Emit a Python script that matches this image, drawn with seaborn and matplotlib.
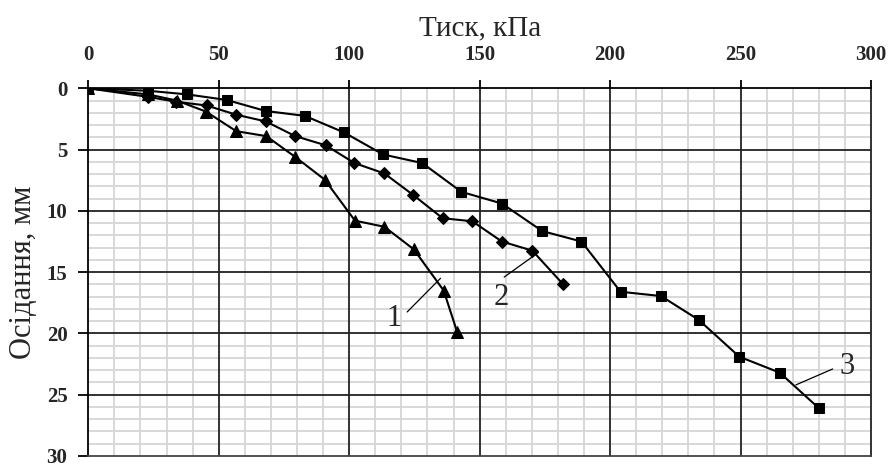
import matplotlib
matplotlib.use("Agg")
import matplotlib.pyplot as plt
import seaborn as sns
import pandas as pd
from matplotlib.ticker import MultipleLocator

# ---- data ----
p1 = [0, 23, 33.9, 45.1, 56.7, 68.2, 79.3, 90.6, 102.2, 113.5, 124.8, 136.2, 141.4]
s1 = [0, 0.5, 1.0, 1.9, 3.5, 3.9, 5.6, 7.45, 10.8, 11.3, 13.15, 16.5, 19.9]

p2 = [0, 23, 33.7, 45.3, 56.6, 68, 79.3, 91, 102, 113.5, 124.5, 135.8, 147.2, 158.5, 170.2, 181.8]
s2 = [0, 0.7, 1.1, 1.4, 2.15, 2.7, 3.9, 4.65, 6.1, 6.95, 8.7, 10.6, 10.85, 12.5, 13.25, 15.95]

p3 = [0, 23, 38, 53, 68, 83, 98, 113, 128, 143, 158.5, 174, 189, 204, 219.5, 234, 249.5, 265, 280]
s3 = [0, 0.2, 0.5, 0.95, 1.85, 2.25, 3.6, 5.4, 6.1, 8.45, 9.4, 11.65, 12.5, 16.6, 16.95, 18.9, 21.9, 23.2, 26.1]

series_names = ["1", "2", "3"]
x_label = "Тиск, кПа"
y_label = "Осідання, мм"
x_ticks = [0, 50, 100, 150, 200, 250, 300]
y_ticks = [0, 5, 10, 15, 20, 25, 30]

df = pd.concat([
    pd.DataFrame({"p": p1, "s": s1, "series": series_names[0]}),
    pd.DataFrame({"p": p2, "s": s2, "series": series_names[1]}),
    pd.DataFrame({"p": p3, "s": s3, "series": series_names[2]}),
], ignore_index=True)

sns.set_theme(style="white")
plt.rcParams["font.family"] = ["Liberation Serif", "DejaVu Serif"]

fig = plt.figure(figsize=(8.92, 4.66), dpi=100)
ax = fig.add_axes([0.099, 0.0215, 0.8775, 0.789])

sns.lineplot(data=df, x="p", y="s", hue="series", style="series",
             palette={"1": "black", "2": "black", "3": "black"},
             markers={"1": "^", "2": "D", "3": "s"}, dashes=False,
             estimator=None, sort=False, legend=False, ax=ax,
             linewidth=1.5, markersize=7, markeredgecolor="black", zorder=5)
for ln, ms in zip(ax.lines, [8, 6, 7]):
    ln.set_markersize(ms)

ax.set_xlim(0, 300)
ax.set_ylim(30, 0)
ax.xaxis.set_minor_locator(MultipleLocator(10))
ax.yaxis.set_minor_locator(MultipleLocator(1))
ax.grid(which="minor", color="#d6d6d6", linewidth=1.3)
ax.grid(which="major", visible=False)
ax.set_axisbelow(True)
for xv in x_ticks[1:-1]:
    ax.axvline(xv, color="#222222", linewidth=1.3, zorder=2)
for yv in y_ticks[1:-1]:
    ax.axhline(yv, color="#222222", linewidth=1.3, zorder=2)

ax.xaxis.tick_top()
ax.xaxis.set_label_position("top")
ax.set_xticks(x_ticks)
ax.set_yticks(y_ticks)
ax.set_xticklabels([str(t) for t in x_ticks], fontweight="bold", fontsize=15)
ax.set_yticklabels([str(t) for t in y_ticks], fontweight="bold", fontsize=15)
ax.tick_params(axis="x", which="major", top=True, bottom=False, direction="out",
               length=6, width=1.3, color="black", pad=11)
ax.tick_params(axis="y", which="major", left=True, direction="out",
               length=7, width=1.3, color="black", pad=8)
ax.tick_params(which="minor", length=0)

for sp in ax.spines.values():
    sp.set_color("black")
    sp.set_linewidth(1.3)
    sp.set_zorder(3)
ax.spines["bottom"].set_color("#444444")
ax.spines["right"].set_color("#222222")

ax.set_xlabel(x_label, fontsize=21)
ax.xaxis.set_label_coords(0.5, 1.128)
ax.xaxis.label.set_va("bottom")
ax.set_ylabel(y_label, fontsize=22, labelpad=6)

# curve labels with leader lines
ax.plot([122.2, 135], [18.25, 15.5], color="black", linewidth=0.9, zorder=6)
ax.text(117.3, 18.8, "1", fontsize=22, ha="center", va="center", zorder=6)
ax.plot([159.4, 172.5], [15.4, 13.4], color="black", linewidth=0.9, zorder=6)
ax.text(158.3, 17.1, "2", fontsize=22, ha="center", va="center", zorder=6)
ax.plot([271.2, 285.3], [24.2, 22.9], color="black", linewidth=0.9, zorder=6)
ax.text(290.8, 22.7, "3", fontsize=22, ha="center", va="center", zorder=6)

fig.savefig("out.png", dpi=100)
